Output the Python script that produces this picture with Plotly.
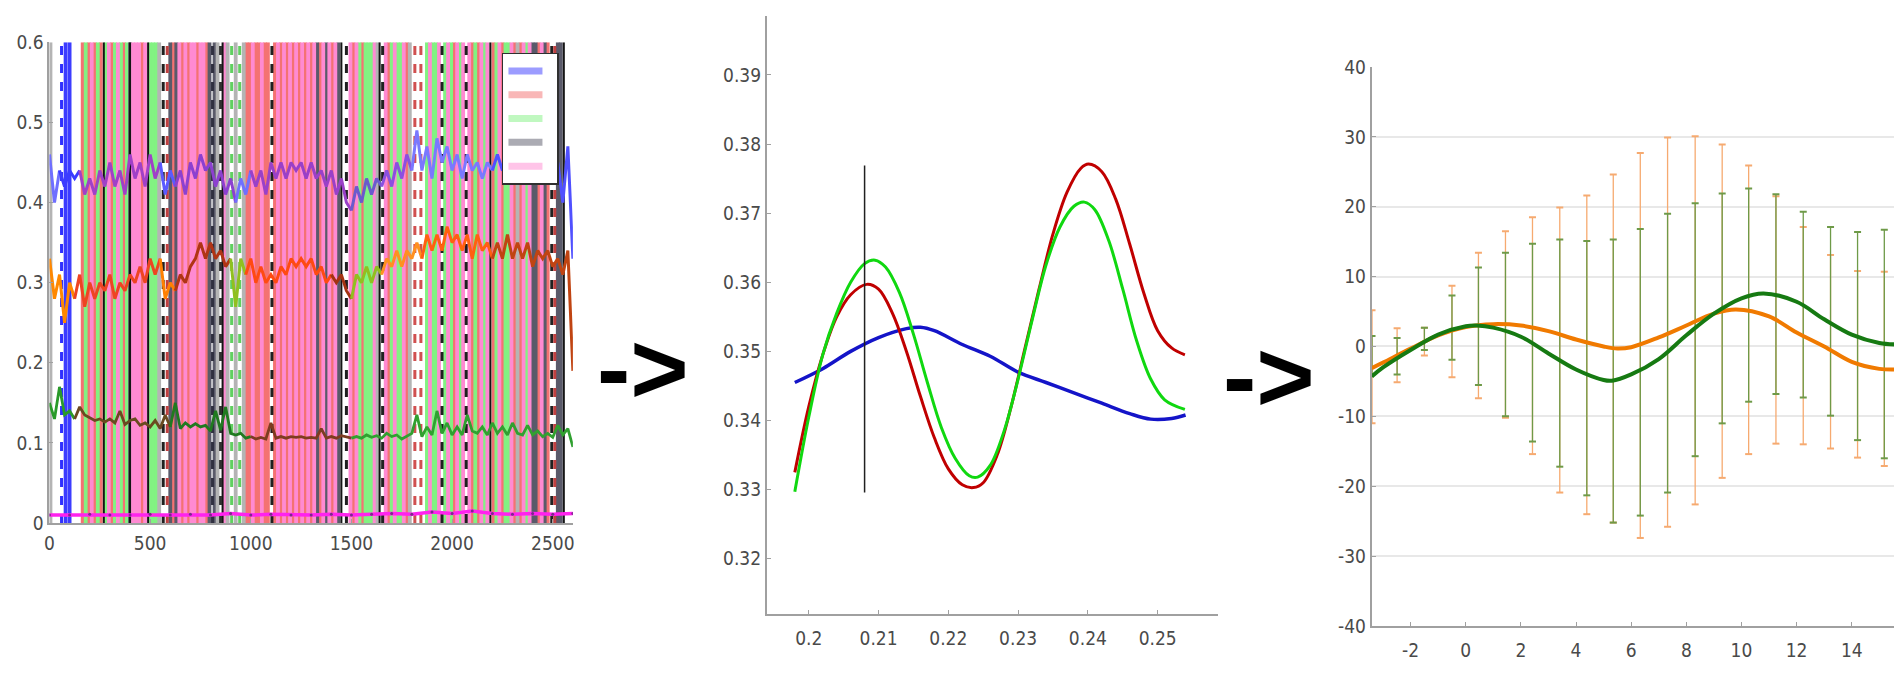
import plotly.graph_objects as go

# ---------------- Panel 1 data ----------------
sample_x = list(range(0, 2601, 25))
top_series = [0.46,0.40,0.44,0.42,0.44,0.43,0.44,0.41,0.43,0.41,
              0.44,0.42,0.45,0.42,0.44,0.41,0.46,0.43,0.45,0.42,
              0.46,0.43,0.45,0.41,0.44,0.42,0.44,0.41,0.45,0.43,
              0.46,0.44,0.45,0.42,0.44,0.41,0.43,0.40,0.43,0.41,
              0.44,0.42,0.44,0.41,0.45,0.43,0.45,0.43,0.45,0.44,
              0.45,0.43,0.45,0.43,0.44,0.42,0.44,0.41,0.43,0.40,
              0.39,0.42,0.40,0.43,0.41,0.43,0.42,0.44,0.42,0.45,
              0.43,0.46,0.44,0.49,0.44,0.47,0.43,0.48,0.45,0.47,
              0.44,0.46,0.43,0.46,0.44,0.45,0.43,0.45,0.44,0.46,
              0.44,0.45,0.43,0.45,0.44,0.46,0.43,0.45,0.44,0.45,
              0.43,0.45,0.40,0.47,0.33]
mid_series = [0.33,0.28,0.31,0.25,0.30,0.28,0.31,0.27,0.30,0.28,
              0.30,0.29,0.31,0.28,0.30,0.29,0.31,0.30,0.32,0.30,
              0.33,0.31,0.33,0.28,0.30,0.29,0.31,0.30,0.32,0.33,
              0.35,0.33,0.35,0.33,0.34,0.32,0.33,0.27,0.33,0.31,
              0.33,0.30,0.32,0.30,0.31,0.30,0.32,0.31,0.33,0.32,
              0.33,0.32,0.33,0.31,0.32,0.30,0.31,0.30,0.31,0.29,
              0.28,0.31,0.30,0.32,0.30,0.32,0.31,0.33,0.32,0.34,
              0.32,0.34,0.33,0.35,0.33,0.36,0.34,0.36,0.34,0.37,
              0.35,0.36,0.34,0.36,0.33,0.36,0.34,0.35,0.33,0.35,
              0.33,0.36,0.33,0.35,0.33,0.35,0.32,0.34,0.33,0.34,
              0.32,0.33,0.31,0.34,0.19]
low_series = [0.150,0.130,0.170,0.135,0.140,0.130,0.145,0.135,0.132,0.128,
              0.130,0.126,0.130,0.125,0.140,0.123,0.128,0.130,0.122,0.125,
              0.120,0.128,0.118,0.135,0.120,0.150,0.118,0.125,0.120,0.124,
              0.120,0.122,0.115,0.140,0.116,0.145,0.112,0.110,0.112,0.106,
              0.108,0.105,0.107,0.105,0.125,0.106,0.108,0.106,0.108,0.107,
              0.108,0.106,0.107,0.106,0.118,0.106,0.108,0.106,0.109,0.107,
              0.106,0.108,0.106,0.110,0.107,0.109,0.106,0.112,0.108,0.110,
              0.105,0.108,0.112,0.135,0.108,0.120,0.110,0.140,0.112,0.125,
              0.110,0.120,0.110,0.135,0.115,0.112,0.120,0.110,0.125,0.112,
              0.120,0.110,0.125,0.112,0.110,0.122,0.110,0.115,0.108,0.112,
              0.107,0.122,0.110,0.118,0.095]
base_x = list(range(0, 2601, 100))
base_series = [0.010,0.010,0.011,0.010,0.010,0.011,0.010,0.011,0.010,0.012,
               0.010,0.011,0.010,0.010,0.011,0.010,0.011,0.012,0.011,0.014,
               0.012,0.015,0.012,0.011,0.012,0.011,0.012]

# colour segments along each series: (start, end, colour)
top_segments = [(0, 50, "#6f6fff"), (50, 150, "#3b3bff"), (150, 550, "#a040c8"),
                (550, 625, "#5a5aff"), (625, 925, "#8c40d0"), (925, 1000, "#7070ff"),
                (1000, 1500, "#9a40c8"), (1500, 1650, "#6a5acd"), (1650, 1800, "#8a50e0"),
                (1800, 2200, "#7a78ff"), (2200, 2600, "#5050ff")]
mid_segments = [(0, 125, "#ff8800"), (125, 550, "#ee4422"), (550, 625, "#ff8000"),
                (625, 900, "#b03414"), (900, 975, "#90c020"), (975, 1400, "#ff4a12"),
                (1400, 1500, "#a43212"), (1500, 1650, "#90c020"), (1650, 1850, "#ff9020"),
                (1850, 2200, "#ff6010"), (2200, 2600, "#c04412")]
low_segments = [(0, 125, "#2a9a2a"), (125, 600, "#6a4a20"), (600, 1000, "#207a20"),
                (1000, 1500, "#7e3c20"), (1500, 2600, "#30a030")]

# vertical state lines: position and class
band_x = [5, 80, 100,
          165, 180, 195, 210, 225, 240, 255,
          280, 295, 310, 325, 340, 355, 370, 385, 400,
          415, 430, 445, 460, 475,
          500, 515, 530, 545,
          600, 615, 630, 645, 660, 675, 690, 705, 720, 735, 750, 765, 780, 795,
          820, 835, 870, 885, 925, 965,
          980, 995, 1010, 1025, 1040, 1055, 1070, 1085,
          1120, 1135, 1150, 1165, 1180, 1195, 1210, 1225, 1240, 1255, 1270, 1285,
          1300, 1315, 1330, 1345, 1360, 1375, 1390, 1405, 1420, 1435,
          1495, 1510, 1525, 1540, 1555, 1570, 1585, 1600, 1615, 1630,
          1670, 1685, 1700, 1715, 1730, 1745, 1760, 1775, 1790,
          1875, 1890, 1905, 1920, 1935, 1965, 1980, 1995, 2010, 2025, 2040, 2055,
          2085, 2100, 2115, 2130, 2145, 2160, 2175, 2205, 2220, 2235, 2250, 2265,
          2280, 2295, 2310, 2325, 2340, 2355, 2370, 2385, 2400, 2415, 2430, 2445,
          2460, 2475, 2525, 2540]
band_cls = ["A", "B", "B",
            "R", "G", "R", "P", "R", "G", "R",
            "G", "P", "R", "G", "P", "G", "R", "G", "K",
            "P", "P", "P", "R", "P",
            "G", "G", "G", "A",
            "K", "R", "K", "P", "R", "P", "R", "P", "P", "R", "P", "P", "R", "K",
            "K", "A", "P", "A", "A", "A",
            "R", "R", "P", "R", "R", "P", "R", "R",
            "R", "P", "R", "P", "R", "P", "R", "P", "R", "P", "R", "P",
            "R", "P", "K", "R", "P", "K", "P", "R", "P", "K",
            "P", "R", "P", "G", "R", "G", "G", "G", "P", "A",
            "P", "R", "G", "P", "G", "G", "P", "R", "A",
            "G", "P", "G", "G", "P", "G", "P", "G", "R", "P", "G", "P",
            "P", "R", "G", "R", "P", "G", "P", "R", "G", "P", "R", "G",
            "G", "P", "R", "A", "R", "P", "G", "P", "K", "K", "R", "P",
            "K", "R", "K", "K"]
class_colors = {"B": "#3c3cff", "R": "#f47272", "G": "#82f282", "K": "#5a5a6a",
                "P": "#ff8ad2", "A": "#b4b4b4"}
legend_classes = ["B", "R", "G", "K", "P"]

black_x = [270, 400, 490, 860, 1450, 1640, 2190, 2555]
dashed_x = [60, 565, 585, 810, 850, 905, 945, 1105, 1475, 1655, 1815, 1845, 1950, 2070, 2495, 2510]
dashed_col = ["#3030ff", "#202020", "#c04040", "#303040", "#303030", "#60d060", "#60d060",
              "#202020", "#202020", "#202020", "#d05050", "#d05050", "#202020", "#202020",
              "#202020", "#c04040"]

# ---------------- Panel 2 data ----------------
blue_x = [0.198, 0.202, 0.206, 0.210, 0.214, 0.216, 0.218, 0.222, 0.226, 0.230,
          0.234, 0.238, 0.242, 0.246, 0.249, 0.252, 0.254]
blue_y = [0.3455, 0.3475, 0.3500, 0.3520, 0.3533, 0.3535, 0.3530, 0.3510, 0.3493, 0.3470,
          0.3455, 0.3440, 0.3425, 0.3410, 0.3402, 0.3403, 0.3408]
red_x = [0.198, 0.200, 0.202, 0.204, 0.206, 0.2083, 0.210, 0.212, 0.214, 0.216, 0.218,
         0.220, 0.222, 0.2236, 0.225, 0.227, 0.229, 0.231, 0.233, 0.235, 0.237, 0.239,
         0.2401, 0.242, 0.244, 0.246, 0.248, 0.250, 0.252, 0.2539]
red_y = [0.3325, 0.3420, 0.3495, 0.3550, 0.3582, 0.3597, 0.3590, 0.3555, 0.3500, 0.3435,
         0.3375, 0.3330, 0.3307, 0.3303, 0.3310, 0.3350, 0.3420, 0.3505, 0.3590, 0.3670,
         0.3730, 0.3765, 0.3771, 0.3760, 0.3720, 0.3655, 0.3585, 0.3530, 0.3505, 0.3495]
green_x = [0.198, 0.200, 0.202, 0.204, 0.206, 0.208, 0.2095, 0.211, 0.213, 0.215, 0.217,
           0.219, 0.221, 0.223, 0.2242, 0.226, 0.228, 0.230, 0.232, 0.234, 0.236, 0.238,
           0.2395, 0.241, 0.243, 0.245, 0.247, 0.249, 0.251, 0.2539]
green_y = [0.3297, 0.3405, 0.3495, 0.3555, 0.3600, 0.3627, 0.3632, 0.3622, 0.3585, 0.3525,
           0.3455, 0.3390, 0.3345, 0.3320, 0.3318, 0.3335, 0.3385, 0.3460, 0.3545, 0.3625,
           0.3680, 0.3710, 0.3716, 0.3705, 0.3660, 0.3590, 0.3515, 0.3460, 0.3430, 0.3416]
marker_x = [0.2080, 0.2080]
marker_y = [0.3296, 0.3769]

# ---------------- Panel 3 data ----------------
orange_x = [-3.41, -3, -2, -1, 0, 1, 2, 3, 4, 5, 5.5, 6, 7, 8, 9, 9.8, 11, 12, 13, 14, 15, 15.56]
orange_y = [-3.1, -2.3, -0.3, 1.6, 2.8, 3.2, 3.0, 2.2, 1.0, 0.0, -0.3, -0.1, 1.3, 3.0, 4.7,
            5.3, 4.3, 2.0, 0.0, -2.2, -3.2, -3.3]
dgreen_x = [-3.41, -3, -2, -1, 0, 0.4, 1, 2, 3, 4, 5, 5.3, 6, 7, 8, 9, 10, 10.8, 12, 13, 14,
            15, 15.56]
dgreen_y = [-4.3, -3.0, -0.5, 1.7, 2.9, 3.0, 2.7, 1.4, -1.0, -3.3, -4.8, -4.9, -4.0, -1.8,
            1.6, 4.7, 6.9, 7.6, 6.4, 3.9, 1.7, 0.5, 0.3]
err_x = [-3.4, -2.49, -1.5, -0.5, 0.46, 1.44, 2.42, 3.41, 4.39, 5.35, 6.33, 7.32, 8.32,
         9.3, 10.26, 11.25, 12.24, 13.23, 14.21, 15.18]
orange_hi = [5.2, 2.6, 2.7, 8.7, 13.4, 16.5, 18.5, 19.9, 21.6, 24.6, 27.7, 29.9, 30.1, 28.9,
             25.9, 21.5, 17.1, 13.1, 10.8, 10.7]
orange_lo = [-11.0, -5.1, -1.3, -4.4, -7.4, -10.2, -15.4, -20.9, -24.0, -25.2, -27.4, -25.8,
             -22.6, -18.8, -15.4, -13.9, -14.0, -14.6, -15.9, -17.1]
green_hi = [1.5, 1.2, 2.7, 7.3, 11.3, 13.4, 14.7, 15.3, 15.1, 15.3, 16.8, 19.0, 20.5, 21.9,
            22.6, 21.8, 19.3, 17.1, 16.4, 16.7]
green_lo = [-4.0, -4.0, -0.5, -1.9, -5.5, -10.0, -13.6, -17.2, -21.3, -25.2, -24.2, -20.9,
            -15.7, -11.0, -7.9, -6.8, -7.3, -9.9, -13.4, -16.0]

FONT = "DejaVu Sans Condensed, Liberation Sans Narrow, sans-serif"
fig = go.Figure()

# ---- panel 1: vertical state lines ----
for cls, col in class_colors.items():
    xs, ys = [], []
    for bx, bc in zip(band_x, band_cls):
        if bc == cls:
            xs += [bx, bx, None]
            ys += [0, 0.6, None]
    fig.add_trace(go.Scatter(x=xs, y=ys, mode="lines", line=dict(color=col, width=3.8),
                             showlegend=False, hoverinfo="skip", xaxis="x", yaxis="y"))
    if cls in legend_classes:
        # legend entry for the class (pale sample, as in the source)
        fig.add_trace(go.Scatter(x=xs, y=ys, mode="lines", line=dict(color=col, width=7),
                                 name=" ", visible="legendonly", showlegend=True,
                                 legendrank=legend_classes.index(cls) + 1,
                                 hoverinfo="skip", xaxis="x", yaxis="y"))
xs, ys = [], []
for bx in black_x:
    xs += [bx, bx, None]
    ys += [0, 0.6, None]
fig.add_trace(go.Scatter(x=xs, y=ys, mode="lines", line=dict(color="#151515", width=2),
                         showlegend=False, hoverinfo="skip", xaxis="x", yaxis="y"))
for dx, dc in zip(dashed_x, dashed_col):
    fig.add_trace(go.Scatter(x=[dx, dx], y=[0, 0.6], mode="lines",
                             line=dict(color=dc, width=3, dash="dash"),
                             showlegend=False, hoverinfo="skip", xaxis="x", yaxis="y"))

# ---- panel 1: series ----
def add_segments(values, segments, width):
    for s, e, col in segments:
        xs = [x for x in sample_x if s <= x <= e]
        ys = [v for x, v in zip(sample_x, values) if s <= x <= e]
        fig.add_trace(go.Scatter(x=xs, y=ys, mode="lines", line=dict(color=col, width=width),
                                 showlegend=False, hoverinfo="skip", xaxis="x", yaxis="y"))

add_segments(top_series, top_segments, 3)
add_segments(mid_series, mid_segments, 3)
add_segments(low_series, low_segments, 2.8)
fig.add_trace(go.Scatter(x=base_x, y=base_series, mode="lines+markers",
                         line=dict(color="#ff22ee", width=3.5),
                         marker=dict(color="#7a2a8a", size=3),
                         showlegend=False, hoverinfo="skip", xaxis="x", yaxis="y"))

# ---- panel 2 ----
fig.add_trace(go.Scatter(x=blue_x, y=blue_y, mode="lines", line=dict(color="#1414c8", width=3.5, shape="spline"),
                         showlegend=False, xaxis="x2", yaxis="y2"))
fig.add_trace(go.Scatter(x=red_x, y=red_y, mode="lines", line=dict(color="#c00000", width=3, shape="spline"),
                         showlegend=False, xaxis="x2", yaxis="y2"))
fig.add_trace(go.Scatter(x=green_x, y=green_y, mode="lines", line=dict(color="#10d810", width=3, shape="spline"),
                         showlegend=False, xaxis="x2", yaxis="y2"))
fig.add_trace(go.Scatter(x=marker_x, y=marker_y, mode="lines", line=dict(color="#202020", width=1.5),
                         showlegend=False, xaxis="x2", yaxis="y2"))

# ---- panel 3 ----
def err_trace(lo, hi, col):
    xs, ys = [], []
    for x, a, b in zip(err_x, lo, hi):
        xs += [x, x, None]
        ys += [a, b, None]
    fig.add_trace(go.Scatter(x=xs, y=ys, mode="lines+markers", line=dict(color=col, width=1.3),
                             marker=dict(symbol="line-ew", size=5, line=dict(color=col, width=2)),
                             showlegend=False, xaxis="x3", yaxis="y3"))

err_trace(orange_lo, orange_hi, "#f6aa70")
err_trace(green_lo, green_hi, "#6e9a48")
fig.add_trace(go.Scatter(x=orange_x, y=orange_y, mode="lines", line=dict(color="#f07a00", width=4, shape="spline"),
                         showlegend=False, xaxis="x3", yaxis="y3"))
fig.add_trace(go.Scatter(x=dgreen_x, y=dgreen_y, mode="lines", line=dict(color="#167a12", width=4, shape="spline"),
                         showlegend=False, xaxis="x3", yaxis="y3"))

tickfont = dict(family=FONT, size=19, color="#4a4a4a")
axis_common = dict(showline=True, linecolor="#a0a0a0", linewidth=2, ticks="inside", ticklen=4,
                   tickcolor="#a0a0a0", zeroline=False, showgrid=False, tickfont=tickfont)

p3_xticks = [-2, 0, 2, 4, 6, 8, 10, 12, 14]
p3_yticks = [-40, -30, -20, -10, 0, 10, 20, 30, 40]

fig.update_layout(
    width=1902, height=685, margin=dict(l=0, r=0, t=0, b=0, autoexpand=False),
    paper_bgcolor="white", plot_bgcolor="white",
    xaxis=dict(axis_common, domain=[0.0218, 0.297], range=[0, 2600], anchor="y",
               tickvals=[0, 500, 1000, 1500, 2000, 2500], ticklabelstandoff=2),
    yaxis=dict(axis_common, domain=[0.248, 0.950], range=[0, 0.6], anchor="x",
               tickvals=[0, 0.1, 0.2, 0.3, 0.4, 0.5, 0.6],
               ticktext=["0", "0.1", "0.2", "0.3", "0.4", "0.5", "0.6"]),
    xaxis2=dict(axis_common, domain=[0.399, 0.636], range=[0.194, 0.2586], anchor="y2",
                tickvals=[0.2, 0.21, 0.22, 0.23, 0.24, 0.25],
                ticktext=["0.2", "0.21", "0.22", "0.23", "0.24", "0.25"], ticklabelstandoff=6),
    yaxis2=dict(axis_common, domain=[0.1153, 0.988], range=[0.312, 0.3985], anchor="x2",
                tickvals=[0.32, 0.33, 0.34, 0.35, 0.36, 0.37, 0.38, 0.39],
                ticktext=["0.32", "0.33", "0.34", "0.35", "0.36", "0.37", "0.38", "0.39"]),
    xaxis3=dict(axis_common, domain=[0.717, 0.992], range=[-3.41, 15.56], anchor="y3",
                tickvals=p3_xticks, ticktext=[str(v) for v in p3_xticks], ticklabelstandoff=6),
    yaxis3=dict(axis_common, domain=[0.0978, 0.9139], range=[-40, 40], anchor="x3",
                tickvals=p3_yticks, ticktext=[str(v) for v in p3_yticks],
                showgrid=True, gridcolor="#e8e8e8", gridwidth=2),
    legend=dict(x=0.2597, y=0.935, xanchor="left", yanchor="top", bgcolor="white",
                bordercolor="#303030", borderwidth=1.5, font=dict(size=16),
                itemwidth=34, tracegroupgap=0, itemclick=False, itemdoubleclick=False),
    annotations=[
        dict(text="<b>-></b>", x=0.3338, y=0.474, xref="paper", yref="paper",
             showarrow=False, font=dict(family="Liberation Sans", size=100, color="black")),
        dict(text="<b>-></b>", x=0.688, y=0.463, xref="paper", yref="paper",
             showarrow=False, font=dict(family="Liberation Sans", size=100, color="black")),
    ],
)

fig.write_html("out.html")
